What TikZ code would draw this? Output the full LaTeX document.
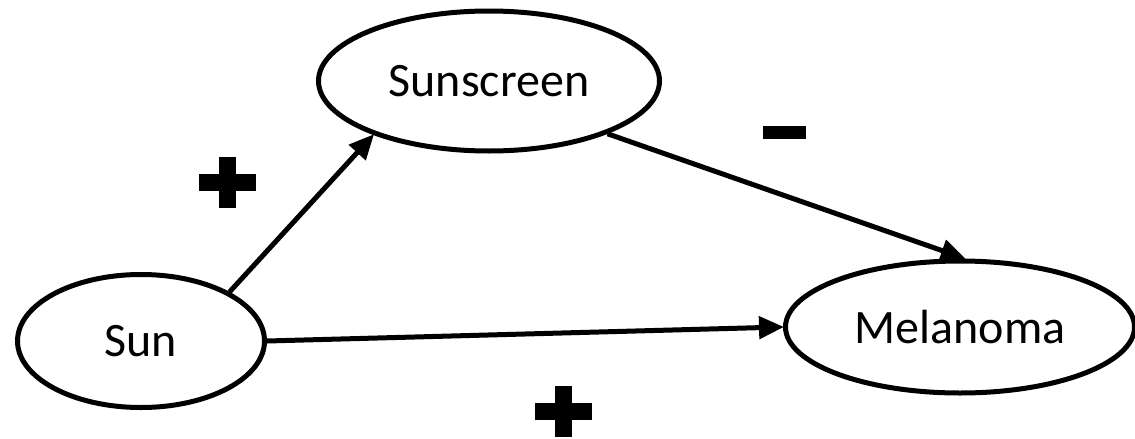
\documentclass[tikz,border=0pt]{standalone}
\usepackage{fontspec}
\setmainfont{Carlito}
\usetikzlibrary{arrows.meta,shapes.geometric}
\begin{document}
\begin{tikzpicture}[x=1pt,y=-1pt,
  every node/.style={font=\fontsize{48}{52}\selectfont},
  factor/.style={ellipse,draw=black,line width=5pt,inner sep=0pt,fill=white},
  link/.style={line width=5pt,-{Triangle[length=25pt,width=22pt]},shorten >=-1pt},
  plussign/.pic={
    \fill (-28.5,-8.5) rectangle (28.5,8.5);
    \fill (-8.5,-25.5) rectangle (8.5,25.5);
  },
  minussign/.pic={
    \fill (-21.5,-6.5) rectangle (21.5,6.5);
  }]
  \useasboundingbox (0,0) rectangle (1135,439);
  \begin{scope}
    \clip (0,0) rectangle (1135,439);

    % the three factors
    \node[factor,minimum width=341pt,minimum height=140pt] (sunscreen) at (489,81) {Sunscreen};
    \node[factor,minimum width=247pt,minimum height=133pt] (sun) at (141,341) {Sun};
    \node[factor,minimum width=349pt,minimum height=132pt] (melanoma) at (960,327) {Melanoma};

    % causal links
    \draw[link] (sun.29) -- (sunscreen.205);
    \draw[link] (sunscreen.-24) -- (melanoma.86);
    \draw[link] (sun.0) -- (melanoma.west);

    % signs of the effects
    \pic at (227,182) {plussign};
    \pic at (563,411) {plussign};
    \pic at (784,132) {minussign};
  \end{scope}
\end{tikzpicture}
\end{document}
